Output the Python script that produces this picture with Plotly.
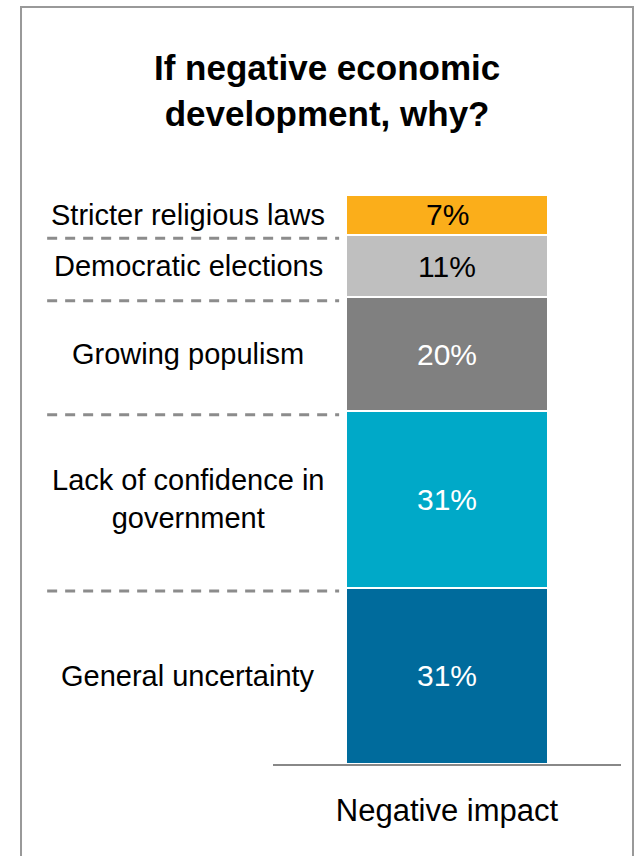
import plotly.graph_objects as go

# Reasons for a negative economic development, stacked bottom to top
category = ["Negative impact"]
reasons = [
    "General uncertainty",
    "Lack of confidence in<br>government",
    "Growing populism",
    "Democratic elections",
    "Stricter religious laws",
]
shares = [31, 31, 20, 11, 7]
colors = ["#006B9C", "#00A9C8", "#808080", "#BFBFBF", "#FBAE1A"]
text_colors = ["#FFFFFF", "#FFFFFF", "#FFFFFF", "#000000", "#000000"]

FONT = "Liberation Sans, Arial, sans-serif"

fig = go.Figure()
for reason, share, color in zip(reasons, shares, colors):
    fig.add_trace(go.Bar(
        x=category,
        y=[share],
        name=reason,
        marker=dict(color=color, line=dict(color="#FFFFFF", width=2)),
        width=0.578,
        hoverinfo="skip",
        showlegend=False,
    ))

annotations = []
shapes = []
base = 0
for i, (reason, share, tcol) in enumerate(zip(reasons, shares, text_colors)):
    mid = base + share / 2
    # value inside the segment
    annotations.append(dict(
        x=category[0], xref="x", y=mid, yref="y",
        text=f"{share}%", showarrow=False,
        font=dict(family=FONT, size=30, color=tcol),
        xanchor="center", yanchor="middle",
    ))
    # reason label on the left
    annotations.append(dict(
        x=-0.244, xref="paper", y=mid, yref="y",
        text=reason, showarrow=False,
        font=dict(family=FONT, size=29, color="#000000"),
        xanchor="center", yanchor="middle", align="center",
    ))
    base += share
    # dashed separator under each label except the lowest
    if i < len(reasons) - 1:
        shapes.append(dict(
            type="line", xref="paper", yref="y",
            x0=-0.649, x1=0.19, y0=base - 0.6, y1=base - 0.6,
            line=dict(color="#8C8C8C", width=3, dash="10px,8px"),
        ))

# title, centred over the whole frame
annotations.append(dict(
    x=0.155, xref="paper", y=(764 - 91) / 569, yref="paper",
    text="<b>If negative economic<br>development, why?</b>",
    showarrow=False, font=dict(family=FONT, size=35, color="#000000"),
    xanchor="center", yanchor="middle", align="center",
))

# outer frame
shapes.append(dict(
    type="rect", xref="paper", yref="paper",
    x0=-0.7241, x1=1.0345, y0=-0.25, y1=1.3304,
    line=dict(color="#999999", width=2), fillcolor="rgba(0,0,0,0)",
))

fig.update_layout(
    width=639, height=856,
    margin=dict(l=273, r=18, t=195, b=92),
    barmode="stack",
    paper_bgcolor="#FFFFFF", plot_bgcolor="#FFFFFF",
    xaxis=dict(
        type="category", range=[-0.5, 0.5],
        showline=True, linecolor="#888888", linewidth=2,
        ticks="", showgrid=False, zeroline=False,
        tickfont=dict(family=FONT, size=31, color="#000000"),
        ticklabelstandoff=18,
    ),
    yaxis=dict(range=[0, 100], visible=False, showgrid=False, zeroline=False),
    annotations=annotations,
    shapes=shapes,
)

fig.write_html("out.html")
